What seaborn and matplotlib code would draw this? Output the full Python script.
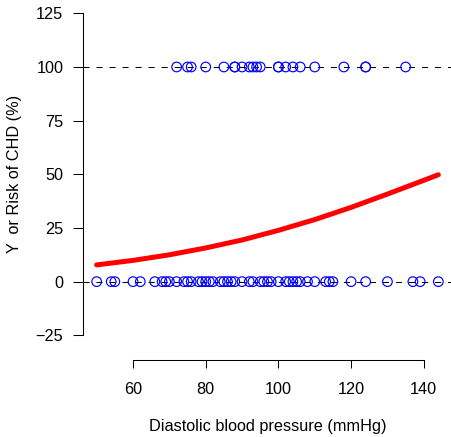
import numpy as np
import pandas as pd
import matplotlib
matplotlib.use("Agg")
import matplotlib.pyplot as plt
import seaborn as sns

# diastolic blood pressure of subjects with CHD (Y = 100) and without (Y = 0)
dbp_chd = [72, 75, 76, 80, 85, 88, 88, 90, 92, 93, 94, 95, 100, 100, 102, 104,
           106, 110, 118, 124, 124, 135]
dbp_no_chd = [50, 54, 55, 60, 62, 66, 68, 69, 70, 72, 74, 75, 76, 78, 79, 80,
              81, 82, 84, 85, 86, 87, 88, 90, 92, 93, 95, 96, 97, 98, 100,
              102, 103, 104, 105, 106, 108, 110, 113, 114, 115, 120, 124,
              130, 137, 139, 144]

# fitted risk curve
curve_dbp = [50, 60, 70, 80, 90, 100, 110, 120, 130, 140, 144]
curve_risk = [7.8, 9.9, 12.5, 15.7, 19.4, 23.9, 28.9, 34.6, 40.8, 47.2, 49.8]

y_ticks = [-25, 0, 25, 50, 75, 100, 125]
x_ticks = [60, 80, 100, 120, 140]

sns.set_style("ticks")
plt.rcParams["font.family"] = ["Liberation Sans", "DejaVu Sans"]
plt.rcParams["text.color"] = "black"
plt.rcParams["xtick.color"] = "black"
plt.rcParams["ytick.color"] = "black"

df = pd.DataFrame({
    "dbp": dbp_chd + dbp_no_chd,
    "y": [100] * len(dbp_chd) + [0] * len(dbp_no_chd),
})
curve = pd.DataFrame({"dbp": curve_dbp, "risk": curve_risk})

W, H = 452, 437
fig = plt.figure(figsize=(W / 100, H / 100), dpi=100)
ax = fig.add_axes([83 / W, (H - 360) / H, (W - 83) / W, 360 / H])

for h in (0, 100):
    ax.axhline(h, color="black", lw=0.75, ls=(0, (5.8, 6.7)), zorder=1)

sns.scatterplot(data=df, x="dbp", y="y", ax=ax, marker="o", s=48,
                facecolor="none", edgecolor="blue", linewidth=0.85, zorder=3)
sns.lineplot(data=curve, x="dbp", y="risk", ax=ax, color="red", lw=3.6,
             zorder=4)

ax.set_xlim(46.24, 147.76)
ax.set_ylim(-36.5, 131.2)
ax.set_xticks(x_ticks)
ax.set_yticks(y_ticks)
ax.set_yticklabels(["\u221225", "0", "25", "50", "75", "100", "125"])

sns.despine(ax=ax)
ax.spines["left"].set_bounds(-25, 125)
ax.spines["bottom"].set_bounds(60, 140)
for s in ("left", "bottom"):
    ax.spines[s].set_linewidth(0.75)
    ax.spines[s].set_color("black")

ax.tick_params(axis="y", length=7.2, width=0.75, pad=7, labelsize=11.7,
               color="black", labelcolor="black")
ax.tick_params(axis="x", length=5.8, width=0.75, pad=10, labelsize=11.7,
               color="black", labelcolor="black")

ax.set_xlabel("")
ax.set_ylabel("")
fig.text(268 / W, 1 - 427 / H, "Diastolic blood pressure (mmHg)",
         ha="center", va="center", fontsize=11.7, color="black")
fig.text(15 / W, 1 - 174 / H, "Y  or Risk of CHD (%)", ha="center",
         va="center", rotation=90, fontsize=11.7, color="black")

fig.savefig("out.png", dpi=100)
